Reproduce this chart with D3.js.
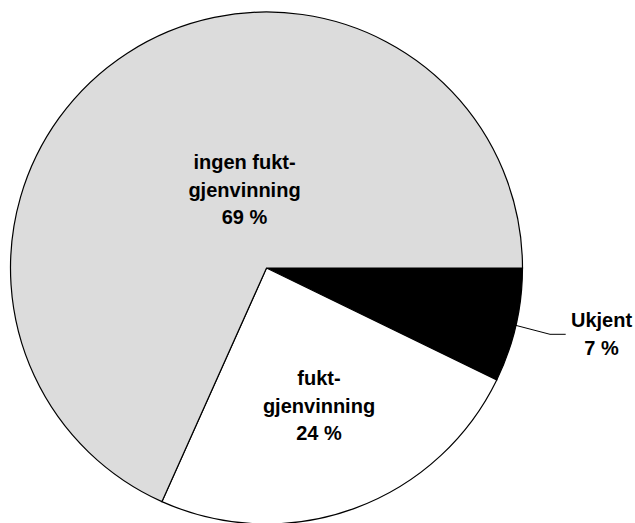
<!DOCTYPE html>
<html>
<head>
<meta charset="utf-8">
<script src="https://cdn.jsdelivr.net/npm/d3@7"></script>
<style>
  html, body { margin: 0; padding: 0; background: #fff; }
  svg { display: block; }
</style>
</head>
<body>
<div id="app"></div>
<script>
// slice data, clockwise from 3 o'clock
const categories = ['Ukjent', 'fukt-gjenvinning', 'ingen fukt-gjenvinning'];
const shares = [7.2, 24.5, 68.3];                 // measured slice sizes
const labelLines = [
  ['Ukjent', '7 %'],
  ['fukt-', 'gjenvinning', '24 %'],
  ['ingen fukt-', 'gjenvinning', '69 %']
];
const fills = ['#000000', '#ffffff', '#dcdcdc'];

const width = 635, height = 523;
const cx = 266.5, cy = 268, radius = 256;

// first-baseline position of each label, relative to pie centre
const labelOffset = [[335, 59], [52.5, 117], [-22, -99]];
const lineStep = 27.5;

const svg = d3.select('#app').append('svg')
  .attr('width', width)
  .attr('height', height);

const g = svg.append('g').attr('transform', `translate(${cx},${cy})`);

const data = categories.map((c, i) => ({ name: c, value: shares[i], i }));

const pie = d3.pie()
  .sort(null)
  .value(d => d.value)
  .startAngle(Math.PI / 2)
  .endAngle(Math.PI / 2 + 2 * Math.PI);

const arcs = pie(data);
const arc = d3.arc().innerRadius(0).outerRadius(radius);

g.selectAll('path.slice')
  .data(arcs)
  .join('path')
  .attr('class', 'slice')
  .attr('d', arc)
  .attr('fill', d => fills[d.data.i])
  .attr('stroke', '#000')
  .attr('stroke-width', 1.2)
  .attr('stroke-linejoin', 'miter');

// leader line for the small outside label
const outerArc = d3.arc().innerRadius(radius).outerRadius(radius);
const small = arcs[0];
const p0 = outerArc.centroid(small);
const p1 = [283.5, 66.3];
const p2 = [299.2, 66.3];
g.append('polyline')
  .attr('points', [p0, p1, p2].map(p => p.join(',')).join(' '))
  .attr('fill', 'none')
  .attr('stroke', '#000')
  .attr('stroke-width', 1);

// labels
const labels = g.selectAll('text.lbl')
  .data(arcs)
  .join('text')
  .attr('class', 'lbl')
  .attr('text-anchor', 'middle')
  .attr('font-family', '"Liberation Sans", Arial, sans-serif')
  .attr('font-weight', 'bold')
  .attr('font-size', 20)
  .attr('fill', '#000')
  .attr('transform', d => `translate(${labelOffset[d.data.i][0]},${labelOffset[d.data.i][1]})`);

labels.selectAll('tspan')
  .data(d => labelLines[d.data.i])
  .join('tspan')
  .attr('x', 0)
  .attr('y', (t, j) => j * lineStep)
  .text(t => t);
</script>
</body>
</html>
